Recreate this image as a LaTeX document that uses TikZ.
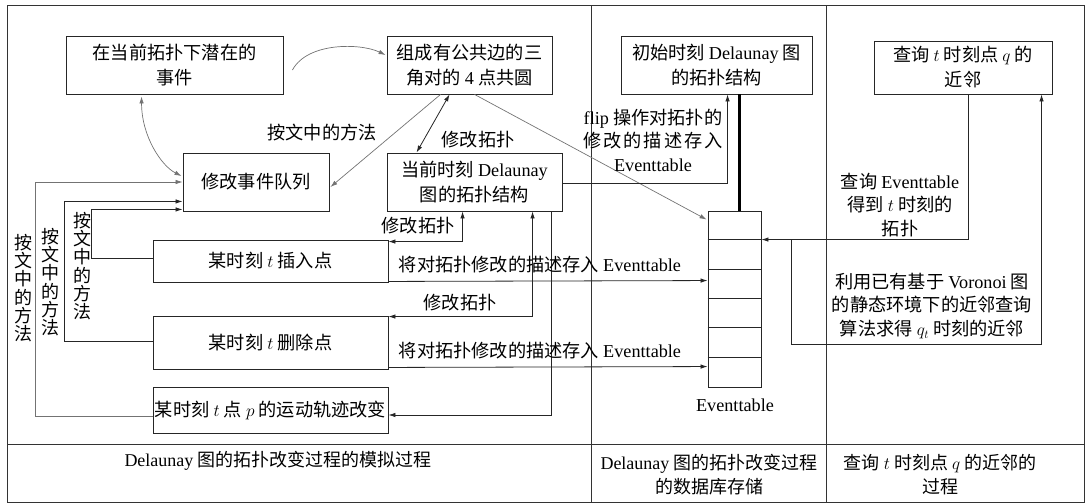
\documentclass[tikz,border=0pt]{standalone}
\usepackage{fontspec}
\setmainfont{Noto Sans CJK SC}
\newfontfamily\latf{Liberation Serif}
\newcommand\lt[1]{{\latf #1}}
\usetikzlibrary{arrows.meta,calc}
\begin{document}
\begin{tikzpicture}[x=1pt,y=-1pt,
  >={Latex[length=7pt,width=4.5pt]},
  box/.style={draw=black!85,line width=0.9pt,align=center,inner sep=0pt,font=\fontsize{18.2}{25}\selectfont},
  lbl/.style={align=center,inner sep=0pt,font=\fontsize{18.2}{23.5}\selectfont},
  vlbl/.style={align=center,inner sep=0pt,font=\fontsize{18}{18.3}\selectfont},
  blbl/.style={align=center,inner sep=0pt,font=\fontsize{18}{24}\selectfont},
  ln/.style={draw=black!85,line width=0.8pt},
  gr/.style={draw=black!55,line width=0.7pt},
  frame/.style={draw=black!80,line width=1pt}]
\useasboundingbox (0,0) rectangle (1085,503);
% frame
\draw[frame] (7,6) rectangle (1084,502);
\draw[frame] (7,444) -- (1084,444);
\draw[frame] (591,6) -- (591,502);
\draw[frame] (826,6) -- (826,502);
% boxes
\node[box,minimum width=217pt,minimum height=58pt] (b1) at (174.5,65) {在当前拓扑下潜在的\\事件};
\node[box,minimum width=165pt,minimum height=58pt] (b2) at (469.5,65) {组成有公共边的三\\角对的 \lt{4} 点共圆};
\node[box,minimum width=191pt,minimum height=58pt] (b3) at (716.5,65) {初始时刻 \lt{Delaunay} 图\\的拓扑结构};
\node[box,minimum width=178pt,minimum height=53pt] (b4) at (963,67.5) {查询 $t$ 时刻点 $q$ 的\\近邻};
\node[box,minimum width=146pt,minimum height=58pt] (b5) at (256,182) {修改事件队列};
\node[box,minimum width=175pt,minimum height=58pt] (b6) at (474.5,182) {当前时刻 \lt{Delaunay}\\图的拓扑结构};
\node[box,minimum width=235pt,minimum height=42pt] (b7) at (270.5,261) {某时刻 $t$ 插入点};
\node[box,minimum width=235pt,minimum height=53pt] (b8) at (270.5,342.5) {某时刻 $t$ 删除点};
\node[box,minimum width=235pt,minimum height=46pt] (b9) at (270.5,410) {某时刻 $t$ 点 $p$ 的运动轨迹改变};
\node[draw=black!85,line width=0.9pt,minimum width=53pt,minimum height=176pt,inner sep=0pt] (et) at (734.5,299) {};
\foreach \i in {1,...,5}
  \draw[ln] ($(et.north west)+(0,\i*29.333)$) -- ($(et.north east)+(0,\i*29.333)$);
\node[lbl] (etl) at (735,405) {\lt{Eventtable}};
% connectors
\draw[gr,->] ($(b1.east)+(9,5)$) .. controls +(15,-28) and +(-25,-12) .. ($(b2.west)+(-1,-10)$);
\draw[gr,<->] ($(b1.south west)+(76,2)$) .. controls +(0,40) and +(-20,-10) .. ($(b5.west)+(-1,-6)$);
\draw[gr,->] ($(b2.south west)+(54,0)$) -- ($(b5.east)+(1,5)$);
\draw[ln,<->] ($(b2.south west)+(63,0)$) -- ($(b6.north west)+(30,0)$);
\draw[gr,->] ($(b2.south west)+(88,0)$) -- ($(et.north west)+(-1,9)$);
\draw[ln,->] ($(b6.east)+(0,1)$) -| ($(b3.south west)+(107,0)$);
\draw[line width=2.5pt] ($(b3.south west)+(119,0)$) -- ($(et.north west)+(32,0)$);
\draw[ln,->] ($(b4.south west)+(95,0)$) |- ($(et.north east)+(0,29)$);
\coordinate (br) at ($(et.north east)+(30,29)$);
\draw[ln,->] (br) -- ++(0,105) -| ($(b4.south west)+(168,0)$);
\draw[ln,<->] ($(b7.north east)+(0,2)$) -| ($(b6.south west)+(76,0)$);
\draw[ln,<->] ($(b8.north east)+(0,1)$) -| ($(b6.south west)+(146,0)$);
\draw[ln,->] ($(b6.south west)+(165,0)$) |- ($(b9.east)+(0,5)$);
\draw[ln,->] ($(b7.south east)+(0,-1)$) -- ($(et.north west)+(0,70)$);
\draw[ln,->] ($(b8.south east)+(0,-2)$) -- ($(et.north west)+(0,156)$);
\draw[ln,->] ($(b7.west)+(0,-3)$) -- ++(-61,0) |- ($(b5.south west)+(0,-2)$);
\draw[ln,->] ($(b8.west)+(0,-1.5)$) -- ++(-88,0) |- ($(b5.south west)+(0,-10)$);
\draw[gr,->] ($(b9.west)+(0,6)$) -- ++(-117,0) |- (b5.west);
% labels
\node[lbl] (l1) at (322,133) {按文中的方法};
\node[lbl] (l2) at (478,140) {修改拓扑};
\node[lbl] (l3) at (653,140) {\lt{flip} 操作对拓扑的\\\makebox[140pt][s]{修\hfill 改\hfill 的\hfill 描\hfill 述\hfill 存\hfill 入}\\\lt{Eventtable}};
\node[lbl] (l4) at (900,205) {查询 \lt{Eventtable}\\得到 $t$ 时刻的\\拓扑};
\node[lbl] (l5) at (932,306) {利用已有基于 \lt{Voronoi} 图\\的静态环境下的近邻查询\\算法求得 $q_t$ 时刻的近邻};
\node[lbl] (l6) at (418,226) {修改拓扑};
\node[lbl] (l7) at (460,303) {修改拓扑};
\node[lbl] (l8) at (540,265) {将对拓扑修改的描述存入 \lt{Eventtable}};
\node[lbl] (l9) at (540,351) {将对拓扑修改的描述存入 \lt{Eventtable}};
\node[vlbl] (v1) at (82,266) {按\\文\\中\\的\\方\\法};
\node[vlbl] (v2) at (50,282) {按\\文\\中\\的\\方\\法};
\node[vlbl] (v3) at (23,288) {按\\文\\中\\的\\方\\法};
% bottom row
\node[blbl] (c1) at (278,461) {\lt{Delaunay} 图的拓扑改变过程的模拟过程};
\node[blbl] (c2) at (709,475) {\lt{Delaunay} 图的拓扑改变过程\\的数据库存储};
\node[blbl] (c3) at (940,475) {查询 $t$ 时刻点 $q$ 的近邻的\\过程};
\end{tikzpicture}
\end{document}
